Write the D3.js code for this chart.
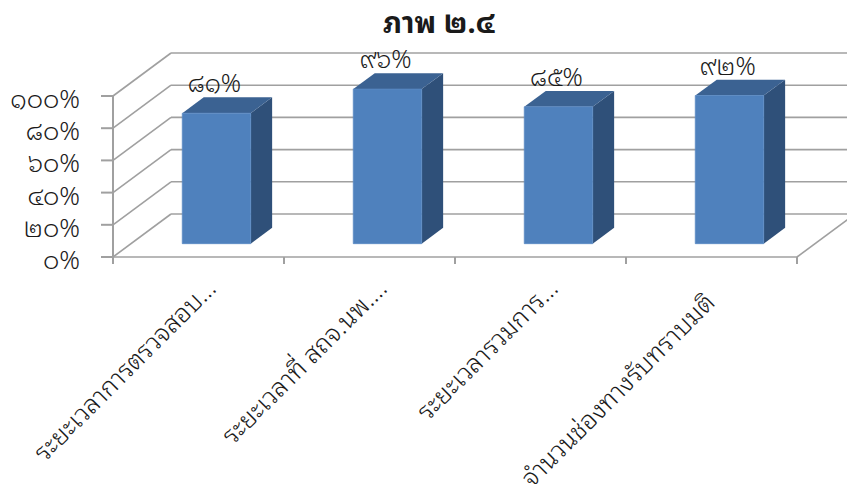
<!DOCTYPE html>
<html>
<head>
<meta charset="utf-8">
<script src="https://cdn.jsdelivr.net/npm/d3@7"></script>
<style>
  html, body { margin: 0; padding: 0; background: #fff; }
  svg { display: block; }
  text { font-family: "Noto Sans Thai Looped", "Loma", "Noto Sans Thai", sans-serif; fill: #1a1a1a; }
</style>
</head>
<body>
<svg id="chart" width="847" height="484"></svg>
<script>
// Chart content
const title = "ภาพ ๒.๔";
const categories = [
  "ระยะเวลาการตรวจสอบ…",
  "ระยะเวลาที่ สถจ.นพ.…",
  "ระยะเวลารวมการ…",
  "จำนวนช่องทางรับทราบมติ"
];
const values = [81, 96, 85, 92];
const yTicks = [0, 20, 40, 60, 80, 100];

// Thai digits for numeric text
const thaiDigits = "๐๑๒๓๔๕๖๗๘๙";
const toThai = s => String(s).replace(/[0-9]/g, d => thaiDigits[+d]);
const pct = v => toThai(v) + "%";

const svg = d3.select("#chart");

// Front plane of the 3D box
const x0 = 113, x1 = 797;
const yBottom = 257, yTop = 96;
// Oblique depth offset of the back wall
const depthDX = 58, depthDY = -43;

const x = d3.scaleBand().domain(categories).range([x0, x1]).paddingInner(0.6).paddingOuter(0.3);
const y = d3.scaleLinear().domain([0, 100]).range([yBottom, yTop]);

// Project (screen x on front plane, value, depth fraction) to screen coords
const P = (sx, v, z) => [sx + z * depthDX, y(v) + z * depthDY];

const gridColor = "#a0a0a0";
const g = svg.append("g");

// Back wall gridlines
g.selectAll("line.back").data(yTicks).join("line")
  .attr("x1", d => P(x0, d, 1)[0]).attr("y1", d => P(x0, d, 1)[1])
  .attr("x2", d => P(x1, d, 1)[0]).attr("y2", d => P(x1, d, 1)[1])
  .attr("stroke", gridColor).attr("stroke-width", 1.6);

// Left wall gridlines
g.selectAll("line.side").data(yTicks).join("line")
  .attr("x1", d => P(x0, d, 0)[0]).attr("y1", d => P(x0, d, 0)[1])
  .attr("x2", d => P(x0, d, 1)[0]).attr("y2", d => P(x0, d, 1)[1])
  .attr("stroke", gridColor).attr("stroke-width", 1.6);

// Floor: front edge and right edge
g.append("line")
  .attr("x1", x0).attr("y1", y(0)).attr("x2", x1).attr("y2", y(0))
  .attr("stroke", gridColor).attr("stroke-width", 1.6);
g.append("line")
  .attr("x1", P(x1, 0, 0)[0]).attr("y1", P(x1, 0, 0)[1])
  .attr("x2", P(x1, 0, 1)[0]).attr("y2", P(x1, 0, 1)[1])
  .attr("stroke", gridColor).attr("stroke-width", 1.6);

// Value axis line and ticks
g.append("line")
  .attr("x1", x0).attr("y1", y(100)).attr("x2", x0).attr("y2", y(0) + 6)
  .attr("stroke", gridColor).attr("stroke-width", 2);
g.selectAll("line.ytick").data(yTicks).join("line")
  .attr("x1", x0 - 12).attr("x2", x0)
  .attr("y1", d => y(d)).attr("y2", d => y(d))
  .attr("stroke", gridColor).attr("stroke-width", 2);
g.selectAll("text.ylab").data(yTicks).join("text")
  .attr("x", 80).attr("y", d => y(d) + 12)
  .attr("text-anchor", "end")
  .attr("font-size", 25.5).attr("font-weight", 300)
  .text(d => pct(d));

// Category ticks on the floor front edge
const step = x.step();
const bounds = d3.range(categories.length + 1).map(i => x0 + i * step);
g.selectAll("line.xtick").data(bounds).join("line")
  .attr("x1", d => d).attr("x2", d => d)
  .attr("y1", y(0)).attr("y2", y(0) + 7)
  .attr("stroke", gridColor).attr("stroke-width", 2);

// Bars
const zFront = 0.31, zBack = 0.68;
const colFront = "#4f81bd", colTop = "#3b6292", colSide = "#2f5079";
const bars = g.selectAll("g.bar").data(values.map((v, i) => ({ v, c: categories[i] }))).join("g");
const poly = pts => pts.map(p => p.join(",")).join(" ");

bars.append("polygon") // side
  .attr("points", d => {
    const xr = x(d.c) + x.bandwidth();
    return poly([P(xr, 0, zFront), P(xr, 0, zBack), P(xr, d.v, zBack), P(xr, d.v, zFront)]);
  })
  .attr("fill", colSide);
bars.append("polygon") // top
  .attr("points", d => {
    const xl = x(d.c), xr = xl + x.bandwidth();
    return poly([P(xl, d.v, zFront), P(xr, d.v, zFront), P(xr, d.v, zBack), P(xl, d.v, zBack)]);
  })
  .attr("fill", colTop);
bars.append("polygon") // front
  .attr("points", d => {
    const xl = x(d.c), xr = xl + x.bandwidth();
    return poly([P(xl, 0, zFront), P(xr, 0, zFront), P(xr, d.v, zFront), P(xl, d.v, zFront)]);
  })
  .attr("fill", colFront)
  .attr("stroke", "#5a8ac4").attr("stroke-width", 0.8);

// Value labels
bars.append("text")
  .attr("x", d => P(x(d.c) + x.bandwidth() / 2, d.v, zFront)[0] - 2)
  .attr("y", d => P(0, d.v, zBack)[1] - 5)
  .attr("text-anchor", "middle")
  .attr("font-size", 25).attr("font-weight", 300)
  .text(d => pct(d.v));

// Category labels, rotated; full-length labels sit a little further down-left
g.selectAll("text.cat").data(categories).join("text")
  .attr("text-anchor", "end")
  .attr("font-size", 25.5).attr("font-weight", 300)
  .attr("transform", d => {
    const s = d.endsWith("…") ? 0 : 14;
    return `translate(${x(d) + x.bandwidth() / 2 + 19 - s},${290 + s}) rotate(-45)`;
  })
  .text(d => d);

// Title
svg.append("text")
  .attr("x", 439).attr("y", 33)
  .attr("text-anchor", "middle")
  .attr("font-size", 29).attr("font-weight", "bold")
  .text(title);
</script>
</body>
</html>
